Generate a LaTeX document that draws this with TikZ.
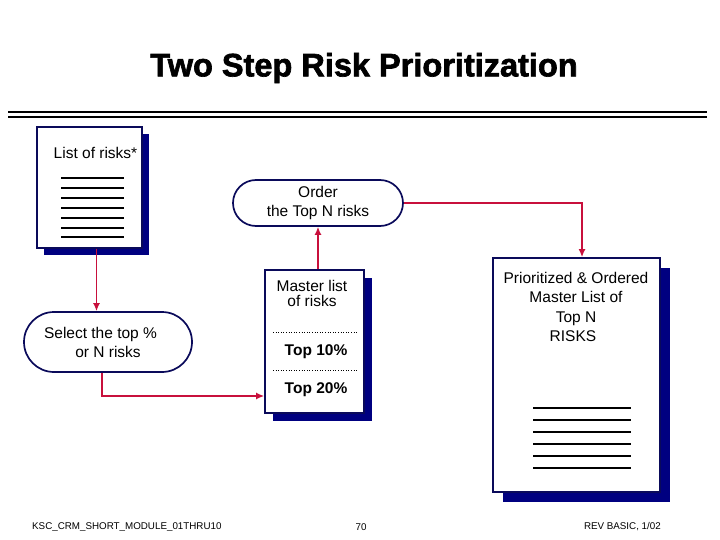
\documentclass[tikz,border=0pt]{standalone}
\usepackage{fontspec}
\setmainfont{Liberation Sans}
\newfontfamily\titlefont{Liberation Sans Bold}[FakeBold=2]
\usetikzlibrary{arrows.meta,shapes.misc,shadows}
\definecolor{navy}{RGB}{10,10,90}
\definecolor{shade}{RGB}{0,0,128}
\definecolor{arrred}{RGB}{200,16,60}
\begin{document}
\begin{tikzpicture}[
x=1pt,y=-1pt,
txt/.style={%
font=\fontsize{15.5}{19}\selectfont,
inner sep=0pt,
align=center
},
doc/.style={%
draw=navy,
line width=1.7pt,
fill=white,
inner sep=0pt,
general shadow={fill=shade,shadow xshift=#1,shadow yshift=-#1}
},
doc/.default=7pt,
pill/.style={%
rounded rectangle,
draw=navy,
line width=1.7pt,
inner sep=0pt,
txt
},
arr/.style={%
-{Latex[length=8pt,width=7pt]},
draw=arrred,
line width=1.5pt
},
foot/.style={%
font=\fontsize{9.8}{11}\selectfont,
inner sep=0pt
}
]
\useasboundingbox(0,0)rectangle(720,540);
%% Title
\node[inner sep=0pt,font=\titlefont\fontsize{32.5}{36}\selectfont]at(364,68)(title){Two Step Risk Prioritization};
\draw[line width=2.2pt](8,112)--(707,112);
\draw[line width=1.5pt](8,117)--(707,117);
%% List of risks
\node[doc,minimum width=105pt,minimum height=121pt]at(89.5,187.5)(lst){};
\node[txt]at(95.5,153)(lsttxt){List of risks*};
\foreach \y in {178,188,198,208,218,228,237}
\draw[line width=1.4pt](61,\y)--(124,\y);
%% Select
\node[pill,minimum width=168pt,minimum height=60pt]at(108,342)(sel){Select the top \%\hspace*{15pt}\\or N risks};
\draw[arr]([xshift=7pt]lst.south)--([xshift=7pt]lst.south|-sel.north);
%% Master list
\node[doc=8pt,minimum width=99pt,minimum height=143pt]at(314.5,341.5)(mst){};
\node[txt,font=\fontsize{15.5}{15}\selectfont]at(312,293)(msttxt){Master list\\of risks};
\draw[line width=0.6pt,dotted](273,332)--(357,332);
\draw[line width=0.6pt,dotted](273,370)--(357,370);
\node[txt,font=\bfseries\fontsize{15.5}{19}\selectfont]at(316,352)(top10){Top 10\%};
\node[txt,font=\bfseries\fontsize{15.5}{19}\selectfont]at(316,390)(top20){Top 20\%};
\draw[arr]([xshift=-6pt]sel.south)|-([yshift=-54.5pt]mst.west);
%% Order
\node[pill,minimum width=170pt,minimum height=46pt]at(318,203)(ord){Order\\the Top N risks};
\draw[arr](ord.south|-mst.north)--(ord.south);
%% Result
\node[doc=10pt,minimum width=167pt,minimum height=234pt]at(576.5,375)(res){};
\node[txt,font=\fontsize{15.5}{19.6}\selectfont]at(576,307)(restxt){Prioritized \& Ordered\\Master List of\\Top N\hspace*{8pt}\\RISKS\hspace*{6pt}};
\foreach \y in {408,420,432,444,456,468}
\draw[line width=1.4pt](533,\y)--(631,\y);
\draw[arr](ord.east)-|([xshift=5.5pt]res.north);
%% Footer
\node[foot,anchor=west]at(32,527)(module){KSC\_CRM\_SHORT\_MODULE\_01THRU10};
\node[foot]at(361,527)(page){70};
\node[foot,anchor=east]at(661,527)(rev){REV BASIC, 1/02};
\end{tikzpicture}
\end{document}
